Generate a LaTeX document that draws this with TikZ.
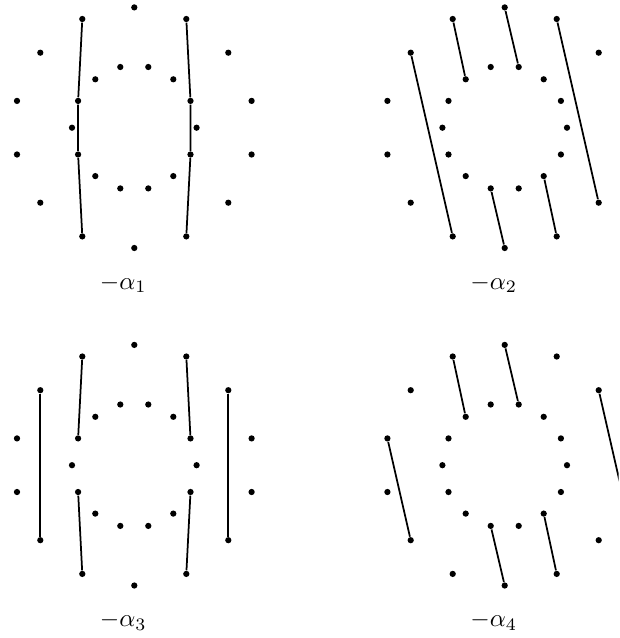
\documentclass[tikz,border=0pt]{standalone}
\usepackage{amsmath}
\usepackage{tikz}

% the 28 points of one panel, offsets from the panel centre
\newcommand{\rootpoints}{
    \foreach \nm/\px/\py in {o1/0/-120.3, o2/52/-108.7, o3/94/-75, o4/117.3/-26.8, o5/117.3/26.8, o6/94/75, o7/52/108.7,
        o8/0/120.3, o9/-52/108.7, o10/-94/75, o11/-117.3/26.8, o12/-117.3/-26.8, o13/-94/-75, o14/-52/-108.7,
        i1/14/-60.7, i2/39/-48.4, i3/56.2/-26.8, i4/62.3/0, i5/56.2/26.8, i6/39/48.4, i7/14/60.7,
        i8/-14/60.7, i9/-39/48.4, i10/-56.2/26.8, i11/-62.3/0, i12/-56.2/-26.8, i13/-39/-48.4, i14/-14/-60.7}
        \node[dotnode] (\nm) at (\px,\py) {};
}

\begin{document}
\begin{tikzpicture}[
    x=0.4pt, y=-0.4pt,
    dotnode/.style={circle, fill=black, inner sep=0pt, minimum size=2.5pt},
    link/.style={draw=black, line width=0.7pt},
    caption/.style={font=\normalsize}
]
\useasboundingbox (0,0) rectangle (619,638);
\clip (0,0) rectangle (618.7,638);

% Panel 1
\begin{scope}[shift={(134.3,127.7)}, name prefix=a-]
    \rootpoints
    \node[caption] (lab) at (-11,156) {$-\alpha_1$};
    \draw[link] (o14) -- (i12) -- (i10) -- (o9);
    \draw[link] (o2) -- (i3) -- (i5) -- (o7);
\end{scope}

% Panel 2
\begin{scope}[shift={(504.7,127.7)}, name prefix=b-]
    \rootpoints
    \node[caption] (lab) at (-11,156) {$-\alpha_2$};
    \draw[link] (o14) -- (i13);
    \draw[link] (o1) -- (i1);
    \draw[link] (o2) -- (o6);
    \draw[link] (o13) -- (o9);
    \draw[link] (i8) -- (o8);
    \draw[link] (i6) -- (o7);
\end{scope}

% Panel 3
\begin{scope}[shift={(134.3,465.2)}, name prefix=c-]
    \rootpoints
    \node[caption] (lab) at (-11,156) {$-\alpha_3$};
    \draw[link] (o13) -- (o10);
    \draw[link] (o3) -- (o6);
    \draw[link] (o14) -- (i12);
    \draw[link] (i10) -- (o9);
    \draw[link] (o2) -- (i3);
    \draw[link] (i5) -- (o7);
\end{scope}

% Panel 4
\begin{scope}[shift={(504.7,465.2)}, name prefix=d-]
    \rootpoints
    \node[caption] (lab) at (-11,156) {$-\alpha_4$};
    \draw[link] (o14) -- (i13);
    \draw[link] (o1) -- (i1);
    \draw[link] (o3) -- (o5);
    \draw[link] (o12) -- (o10);
    \draw[link] (i8) -- (o8);
    \draw[link] (i6) -- (o7);
\end{scope}

\end{tikzpicture}
\end{document}
